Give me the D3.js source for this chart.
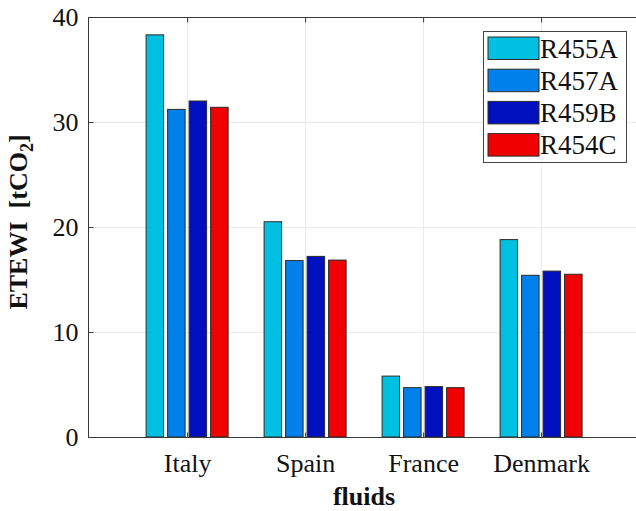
<!DOCTYPE html>
<html>
<head>
<meta charset="utf-8">
<script src="https://cdn.jsdelivr.net/npm/d3@7"></script>
<style>
  html, body { margin: 0; padding: 0; background: #fff; }
  svg { display: block; }
  text { font-family: "Liberation Serif", "Times New Roman", serif; fill: #111; }
</style>
</head>
<body>
<svg id="chart" width="636" height="511"></svg>
<script>
// ETEWI per country and refrigerant
const countries = ["Italy", "Spain", "France", "Denmark"];
const fluids = ["R455A", "R457A", "R459B", "R454C"];
const R455A = [38.3, 20.5, 5.8, 18.8];
const R457A = [31.2, 16.8, 4.7, 15.4];
const R459B = [32.0, 17.2, 4.8, 15.8];
const R454C = [31.4, 16.85, 4.7, 15.5];
const yTicks = [0, 10, 20, 30, 40];
const colors = ["#00C0E2", "#0080EA", "#0010BE", "#F00000"];

const seriesValues = [R455A, R457A, R459B, R454C];

const svg = d3.select("#chart");
const plotLeft = 88, plotTop = 17, plotBottom = 437;
const fontSize = 26;

// categories sit at 1..4 on a numeric axis, as in a grouped bar plot
const x = d3.scaleLinear().domain([0.16, 4.84]).range([plotLeft, 640.2]);
const y = d3.scaleLinear().domain([0, 40]).range([plotBottom, plotTop]);
const inner = d3.scaleBand().domain(fluids).range([-43, 43])
  .paddingInner(0.186).paddingOuter(0.093);
const color = d3.scaleOrdinal().domain(fluids).range(colors);

// grid
const grid = svg.append("g").attr("stroke", "#ebebeb").attr("stroke-width", 1);
grid.selectAll(".gy").data(yTicks.filter(t => t > 0 && t < 40)).enter().append("line")
  .attr("x1", plotLeft).attr("x2", 636)
  .attr("y1", d => Math.round(y(d)) + 0.5).attr("y2", d => Math.round(y(d)) + 0.5);
grid.selectAll(".gx").data(countries).enter().append("line")
  .attr("x1", (d, i) => Math.round(x(i + 1)) + 0.5).attr("x2", (d, i) => Math.round(x(i + 1)) + 0.5)
  .attr("y1", plotTop).attr("y2", plotBottom);

// bars
const groups = svg.append("g").selectAll("g").data(countries).enter().append("g")
  .attr("transform", (d, i) => `translate(${x(i + 1)},0)`);
groups.selectAll("rect")
  .data((d, i) => fluids.map((f, k) => ({ f, v: seriesValues[k][i] })))
  .enter().append("rect")
  .attr("x", d => inner(d.f))
  .attr("width", inner.bandwidth())
  .attr("y", d => y(d.v))
  .attr("height", d => y(0) - y(d.v))
  .attr("fill", d => color(d.f))
  .attr("stroke", "#2a2a2a")
  .attr("stroke-width", 1);

// axes box
const axisColor = "#3a3a3a";
svg.append("line").attr("x1", plotLeft + 0.5).attr("x2", plotLeft + 0.5).attr("y1", plotTop).attr("y2", plotBottom + 0.5)
  .attr("stroke", axisColor);
svg.append("line").attr("x1", plotLeft).attr("x2", 636).attr("y1", plotBottom + 0.5).attr("y2", plotBottom + 0.5)
  .attr("stroke", axisColor);
svg.append("line").attr("x1", plotLeft).attr("x2", 636).attr("y1", plotTop + 0.5).attr("y2", plotTop + 0.5)
  .attr("stroke", axisColor);

// y axis
const yAxis = d3.axisLeft(y).tickValues(yTicks).tickSizeInner(-5).tickSizeOuter(0).tickPadding(10);
const ya = svg.append("g").attr("transform", `translate(${plotLeft + 0.5},0)`).call(yAxis);
ya.select(".domain").remove();
ya.selectAll(".tick line").attr("stroke", axisColor);
ya.selectAll(".tick text").attr("font-size", fontSize).attr("font-family", "Liberation Serif").attr("fill", "#111")
  .attr("x", -10).attr("dy", "0.34em");

// x axis ticks (bottom and top, pointing inward)
const xa = d3.axisBottom(x).tickValues([1, 2, 3, 4]).tickSizeInner(-5).tickSizeOuter(0)
  .tickFormat((d) => countries[d - 1]).tickPadding(16);
const xg = svg.append("g").attr("transform", `translate(0,${plotBottom + 0.5})`).call(xa);
xg.select(".domain").remove();
xg.selectAll(".tick line").attr("stroke", axisColor);
xg.selectAll(".tick text").attr("font-size", fontSize).attr("font-family", "Liberation Serif").attr("fill", "#111");
const xt = d3.axisTop(x).tickValues([1, 2, 3, 4]).tickSizeInner(-5).tickSizeOuter(0).tickFormat("");
const xtg = svg.append("g").attr("transform", `translate(0,${plotTop + 0.5})`).call(xt);
xtg.select(".domain").remove();
xtg.selectAll(".tick line").attr("stroke", axisColor);

// axis titles
svg.append("text").attr("x", 364).attr("y", 505).attr("text-anchor", "middle")
  .attr("font-size", fontSize).attr("font-weight", "bold").text("fluids");
const yl = svg.append("text").attr("transform", "translate(27,222) rotate(-90)")
  .attr("text-anchor", "middle").attr("font-size", fontSize).attr("font-weight", "bold");
yl.append("tspan").text("ETEWI\u00a0\u00a0[tCO");
yl.append("tspan").attr("font-size", 18).attr("dy", 6).text("2");
yl.append("tspan").attr("dy", -6).text("]");

// legend
const lg = svg.append("g");
lg.append("rect").attr("x", 483.5).attr("y", 31.5).attr("width", 143).attr("height", 131)
  .attr("fill", "#fff").attr("stroke", "#444").attr("stroke-width", 1);
const items = lg.selectAll(".item").data(fluids).enter().append("g")
  .attr("transform", (d, i) => `translate(0,${37 + i * 32.2})`);
items.append("rect").attr("x", 488).attr("y", 0).attr("width", 51).attr("height", 22.5)
  .attr("fill", d => color(d)).attr("stroke", "#2a2a2a").attr("stroke-width", 1);
items.append("text").attr("x", 540).attr("y", 20.5).attr("font-size", 27).text(d => d);
</script>
</body>
</html>
